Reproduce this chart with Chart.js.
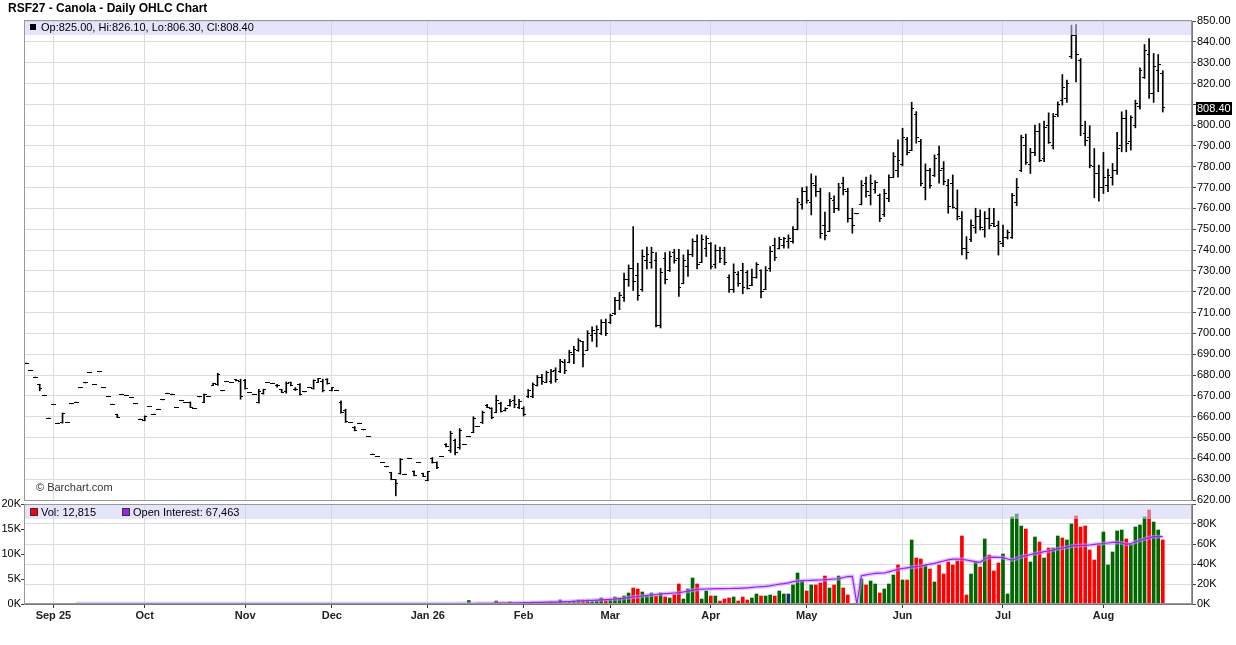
<!DOCTYPE html>
<html>
<head>
<meta charset="utf-8">
<script src="https://cdn.jsdelivr.net/npm/chart.js@4.4.1/dist/chart.umd.min.js"></script>
<style>
  html, body { margin: 0; padding: 0; background: #fff; }
  body { width: 1236px; height: 645px; position: relative; overflow: hidden; font-family: "Liberation Sans", Arial, sans-serif; }
  #title { position: absolute; left: 8px; top: 1px; font-size: 12px; font-weight: bold; color: #000; z-index: 5; }
  #priceWrap { position: absolute; left: 0; top: 0; width: 1236px; height: 520px; }
  #volWrap { position: absolute; left: 0; top: 495px; width: 1236px; height: 150px; }
</style>
</head>
<body>
<div id="title">RSF27 - Canola - Daily OHLC Chart</div>
<div id="priceWrap"><canvas id="price" width="1236" height="520"></canvas></div>
<div id="volWrap"><canvas id="volume" width="1236" height="150"></canvas></div>
<script>
// month gridlines / x tick labels (bar index of first bar in each month)
const monthIdx = [6, 26, 48, 67, 88, 109, 128, 150, 171, 192, 214, 236];
const monthLabels = ['Sep 25', 'Oct', 'Nov', 'Dec', 'Jan 26', 'Feb', 'Mar', 'Apr', 'May', 'Jun', 'Jul', 'Aug'];

// daily OHLC, one entry per bar
const opens = [
  685.7,682.3,679.0,675.5,670.3,659.3,666.0,656.9,657.0,657.2,
  666.2,667.0,673.9,676.2,681.3,675.5,681.6,673.9,669.6,666.0,
  661.2,670.6,670.3,669.2,666.2,658.8,658.0,664.9,661.2,663.6,
  668.1,671.3,670.8,664.4,667.9,666.8,667.0,663.9,669.5,666.8,
  669.7,675.2,675.3,672.4,677.0,676.4,678.0,677.0,677.5,671.6,
  670.8,667.0,671.0,676.4,676.1,674.8,673.0,672.0,676.5,673.2,
  675.5,671.9,674.0,673.3,676.5,677.0,678.0,672.5,672.7,667.0,
  663.0,657.2,655.0,656.9,653.7,650.5,642.0,640.9,638.0,635.9,
  633.0,629.7,632.5,632.4,640.1,633.5,638.0,632.8,629.5,640.0,
  638.0,640.9,646.8,644.0,648.5,645.0,646.6,650.4,652.5,655.2,
  657.0,665.5,664.0,662.0,666.5,663.0,665.3,668.0,664.5,664.0,
  669.5,669.5,675.0,679.0,676.5,677.0,682.0,681.5,686.0,686.0,
  690.0,692.0,696.0,692.0,699.0,700.0,700.0,705.0,705.0,709.5,
  716.0,717.0,726.0,731.0,728.0,721.0,735.0,734.0,735.0,704.0,
  736.0,730.0,739.0,736.0,724.0,732.0,738.0,744.0,734.0,741.0,
  743.0,733.0,740.0,740.0,727.0,721.0,728.5,730.0,729.0,723.0,
  727.0,730.0,721.0,731.0,742.0,741.0,742.0,744.0,744.0,750.0,
  762.0,768.0,763.0,771.0,768.0,752.0,749.0,764.0,760.0,772.0,
  768.0,755.0,757.4,762.0,772.0,766.0,769.0,766.0,757.0,765.0,
  775.0,778.0,781.0,793.0,788.0,805.0,792.0,770.0,778.0,776.0,
  786.0,779.0,771.0,772.0,760.0,755.0,741.0,745.0,751.0,756.0,
  750.0,755.0,753.0,752.0,743.0,746.0,746.0,763.0,778.0,790.0,
  781.0,787.0,797.0,784.0,800.0,790.0,805.0,812.0,813.0,833.0,
  843.0,831.0,796.0,794.0,780.0,777.0,770.0,771.0,775.0,778.0,
  790.0,803.0,792.0,800.0,809.0,823.0,834.0,815.0,826.0,825.0
];
const highs = [
  685.7,682.3,679.0,675.6,670.3,659.3,666.0,656.9,661.8,657.2,
  666.2,667.0,673.9,676.2,681.3,675.5,681.6,673.9,669.6,666.0,
  661.2,670.6,670.3,669.2,666.2,658.8,660.4,664.9,661.2,663.6,
  668.1,671.3,670.8,664.4,667.9,666.8,667.1,663.9,669.5,670.8,
  669.7,676.1,680.9,672.4,677.0,676.4,678.0,678.0,678.0,671.6,
  670.8,673.2,673.2,676.4,676.1,675.5,673.2,676.7,676.7,674.0,
  675.9,671.9,674.0,677.7,678.3,678.0,678.3,674.0,672.7,667.6,
  663.6,657.2,655.3,656.9,653.7,650.5,642.0,640.9,638.0,635.9,
  633.2,629.7,639.9,632.4,640.1,634.0,638.0,632.9,633.7,640.4,
  638.3,640.9,647.1,653.0,649.2,654.3,646.6,650.4,660.0,655.2,
  662.7,665.9,664.3,670.2,667.0,664.3,668.3,670.2,668.3,664.8,
  673.1,676.3,679.8,680.3,681.9,682.7,683.5,687.5,687.5,691.9,
  693.8,697.5,696.2,701.3,703.1,703.7,706.6,706.9,709.3,717.3,
  719.7,728.9,732.9,751.3,733.7,740.1,741.4,741.4,738.8,731.3,
  738.8,739.3,740.4,740.4,737.7,740.1,745.4,747.3,747.3,746.8,
  743.6,742.5,741.4,741.4,728.1,733.4,729.7,733.7,730.2,730.9,
  734.0,730.5,732.1,741.7,745.7,746.2,746.1,747.3,751.3,764.9,
  770.0,770.5,776.6,775.6,769.7,758.2,767.6,766.0,772.1,775.0,
  769.7,760.1,757.4,773.4,775.0,776.1,773.4,767.0,769.2,776.1,
  786.8,792.9,798.5,794.2,811.0,806.5,793.2,781.4,779.3,785.7,
  790.0,782.5,774.0,776.1,768.9,758.5,746.5,754.5,760.1,759.3,
  758.5,760.1,760.1,753.9,752.0,749.6,767.2,774.4,795.2,795.7,
  788.8,800.0,800.8,801.9,805.9,805.6,811.2,824.3,821.6,848.0,
  848.3,832.0,801.9,799.7,788.8,780.8,786.9,778.9,781.6,796.5,
  806.4,807.2,804.5,812.0,827.5,838.7,841.6,834.4,833.9,826.1
];
const lows = [
  685.7,682.3,679.0,672.4,670.3,659.3,666.0,656.9,656.9,657.2,
  666.2,667.0,673.9,676.2,681.3,675.5,681.6,673.9,669.6,666.0,
  659.6,670.6,670.3,669.2,666.2,658.8,658.0,664.9,661.2,663.6,
  668.1,671.3,670.8,664.4,667.9,666.8,664.4,663.9,669.5,666.8,
  669.7,675.1,675.1,672.4,677.0,676.4,677.2,668.4,673.2,671.6,
  670.8,666.5,670.8,676.4,676.1,674.2,671.6,671.3,674.8,672.6,
  670.3,671.9,674.0,673.2,676.4,671.9,675.6,672.4,672.7,661.7,
  657.2,657.2,653.2,656.9,653.7,650.5,642.0,640.9,638.0,635.9,
  629.7,622.0,632.4,632.4,640.1,631.6,638.0,631.3,629.2,637.7,
  635.1,640.9,645.5,642.8,641.7,644.4,646.6,650.4,652.3,655.2,
  656.7,664.3,659.0,661.9,662.2,662.7,665.1,664.3,663.8,660.3,
  669.1,669.1,674.7,675.5,676.3,676.0,676.6,681.1,680.7,685.9,
  685.5,691.4,683.9,691.9,696.2,693.5,699.4,698.9,704.7,709.0,
  711.4,715.4,722.6,720.6,715.9,720.2,730.9,731.3,703.1,702.6,
  723.8,729.7,733.7,717.8,723.8,727.3,736.9,730.9,734.0,736.9,
  730.9,731.3,734.0,732.9,719.7,719.7,722.6,719.0,721.3,722.9,
  726.5,717.0,721.0,729.7,735.0,740.5,740.9,740.9,743.3,749.7,
  759.6,762.5,756.9,765.7,745.7,744.9,748.9,758.0,759.0,766.5,
  753.4,748.1,757.4,761.7,765.4,761.7,767.3,753.7,756.1,763.3,
  775.0,775.0,780.4,785.7,787.8,791.3,770.8,764.1,769.7,775.3,
  772.1,771.3,757.7,760.1,754.5,737.7,735.7,744.1,748.1,749.7,
  746.2,750.1,751.3,737.6,741.6,745.3,745.6,761.3,777.6,781.1,
  776.8,785.3,782.4,782.4,791.2,788.5,804.0,809.6,810.9,832.0,
  820.8,794.9,790.1,779.5,765.1,763.5,767.2,768.0,771.2,776.3,
  787.2,787.2,788.0,798.7,807.7,822.4,812.8,810.9,816.0,806.3
];
const closes = [
  685.7,682.3,679.0,673.5,670.3,659.3,666.0,656.9,661.5,657.2,
  666.2,667.0,673.9,676.2,681.3,675.5,681.6,673.9,669.6,666.0,
  659.6,670.6,670.3,669.2,666.2,658.8,660.3,664.9,661.2,663.6,
  668.1,671.3,670.8,664.4,667.9,666.8,664.4,663.9,669.5,670.5,
  669.7,676.0,680.5,672.4,677.0,676.4,677.5,669.5,673.5,671.6,
  670.8,672.0,673.0,676.4,676.1,674.8,671.8,676.0,675.0,673.2,
  670.5,671.9,674.0,677.5,678.2,672.5,676.0,674.0,672.7,662.0,
  657.5,657.2,653.5,656.9,653.7,650.5,642.0,640.9,638.0,635.9,
  630.0,628.0,639.5,632.4,640.1,632.0,638.0,631.5,633.5,638.0,
  635.5,640.9,645.7,652.0,643.0,653.5,646.6,650.4,659.0,655.2,
  662.0,664.5,659.5,668.0,662.5,664.0,667.5,666.0,667.5,661.0,
  672.5,675.5,679.0,677.0,681.0,681.5,678.0,686.5,682.0,691.0,
  692.5,696.5,690.0,700.0,701.5,702.0,705.0,700.0,708.5,716.0,
  718.0,726.0,731.0,725.0,718.0,737.0,738.0,739.0,704.0,729.0,
  726.0,737.0,735.0,722.0,735.0,738.0,744.0,733.0,745.0,745.5,
  732.0,740.0,736.0,734.0,721.0,729.0,724.0,722.0,721.5,727.0,
  733.0,720.0,730.0,739.5,736.5,745.0,745.5,745.5,750.0,763.0,
  768.0,764.0,772.0,768.0,748.0,747.0,765.0,760.0,770.0,769.0,
  755.0,752.0,757.4,771.0,768.0,772.0,772.5,755.0,767.0,775.0,
  785.0,783.0,794.0,787.0,808.0,794.0,772.0,778.0,771.0,784.0,
  778.0,773.0,761.0,760.3,756.0,741.0,739.0,752.0,756.0,751.0,
  755.0,752.0,751.5,744.0,746.0,748.5,766.0,770.0,794.0,782.0,
  787.0,797.0,783.0,799.0,791.5,804.0,810.0,818.0,820.0,843.0,
  834.0,800.0,792.5,780.5,777.0,770.0,775.0,776.0,778.0,789.0,
  803.0,791.0,803.5,810.5,826.0,836.0,815.0,828.0,829.0,808.4
];

// daily volume in thousands, and direction (1 up, -1 down, 0 unchanged)
const volume = [
  0,0,0,0,0,0,0,0,0,0,
  0,0.15,0,0,0,0,0,0,0,0,
  0,0,0,0,0,0,0,0,0,0,
  0,0,0,0,0,0,0,0,0,0,
  0,0,0,0,0,0,0,0,0,0,
  0,0,0,0,0,0,0,0,0,0,
  0,0,0,0,0,0,0,0,0,0,
  0,0,0,0,0,0,0,0,0,0,
  0,0,0,0,0,0,0,0,0,0,
  0,0,0,0,0,0,0,0.7,0,0,
  0,0,0,0.6,0.2,0.2,0.4,0.13,0.2,0.1,
  0.2,0.4,0.27,0.27,0.27,0.4,0.4,0.8,0.27,0.4,
  0.6,0.8,0.8,0.8,0.47,0.67,1.2,0.67,0.87,1.4,
  1.2,1.6,2.2,3.2,3.0,2.4,1.6,2.2,1.6,2.2,
  1.4,1.2,1.9,4.0,1.0,3.0,5.2,4.0,1.0,2.6,
  1.6,1.6,0.6,1.0,1.2,1.4,0.6,1.4,0.8,1.2,
  2.0,1.6,1.6,1.8,1.6,2.6,2.0,2.0,3.8,6.2,
  4.7,2.6,3.8,3.8,4.2,5.6,3.2,3.8,5.6,3.2,
  1.8,0,0,5.0,3.8,4.6,4.0,2.2,3.0,4.0,
  5.8,7.8,4.8,4.8,12.8,9.2,9.0,7.8,7.0,4.4,
  7.8,6.0,8.4,7.8,8.6,13.6,1.8,6.0,8.4,7.4,
  13.0,9.8,6.6,8.2,10.0,2.0,17.4,18.0,15.6,15.0,
  8.4,13.4,12.4,9.2,11.2,11.2,13.6,13.2,12.8,16.0,
  17.6,15.4,15.6,10.8,8.8,11.8,14.4,7.8,10.4,14.6,
  14.8,13.0,12.0,15.4,15.8,17.4,18.8,16.4,14.8,12.815
];
const volumeDir = [
  1,1,1,1,1,1,1,1,1,1, 1,1,1,1,1,1,1,1,1,1,
  1,1,1,1,1,1,1,1,1,1, 1,1,1,1,1,1,1,1,1,1,
  1,1,1,1,1,1,1,1,1,1, 1,1,1,1,1,1,1,1,1,1,
  1,1,1,1,1,1,1,1,1,1, 1,1,1,1,1,1,1,1,1,1,
  1,1,1,1,1,1,1,1,1,1, 1,1,1,1,1,1,1,1,1,1,
  1,1,1,1,-1,1,1,-1,1,-1,
  1,1,1,-1,1,1,-1,1,-1,1,
  1,1,-1,1,1,1,1,-1,1,1,
  1,1,1,-1,-1,1,1,1,-1,1,
  -1,1,-1,-1,1,1,1,-1,1,1,
  -1,1,-1,-1,-1,1,-1,-1,-1,1,
  1,-1,1,1,-1,1,1,0,1,1,
  1,-1,1,-1,-1,-1,1,-1,1,-1,
  -1,1,1,1,-1,1,1,-1,1,1,
  1,-1,1,-1,1,-1,-1,1,-1,1,
  -1,-1,-1,-1,-1,-1,-1,1,1,-1,
  1,-1,-1,-1,1,1,1,1,1,-1,
  1,1,-1,1,-1,1,1,-1,1,1,
  -1,-1,-1,-1,-1,-1,1,1,1,1,
  1,-1,1,1,1,1,-1,1,1,-1
];
// open interest in thousands (null = not yet reported)
const openInterest = [
  null,null,null,null,null,null,null,null,null,null,
  null,0.3,0.3,0.3,0.3,0.3,0.3,0.3,0.3,0.3,
  0.3,0.3,0.3,0.3,0.3,0.3,0.3,0.3,0.3,0.3,
  0.3,0.3,0.3,0.3,0.3,0.3,0.3,0.3,0.3,0.3,
  0.3,0.3,0.3,0.3,0.3,0.3,0.3,0.3,0.3,0.3,
  0.3,0.3,0.3,0.3,0.3,0.3,0.3,0.3,0.3,0.3,
  0.3,0.3,0.3,0.3,0.3,0.3,0.3,0.3,0.3,0.3,
  0.3,0.3,0.3,0.3,0.3,0.3,0.3,0.3,0.3,0.3,
  0.3,0.3,0.3,0.3,0.3,0.3,0.3,0.3,0.3,0.3,
  0.3,0.3,0.3,0.3,0.3,0.4,0.4,0.5,0.5,0.6,
  0.6,0.6,0.6,0.8,0.9,1.0,1.0,1.1,1.2,1.3,
  1.4,1.5,1.6,1.7,1.8,1.9,2.0,2.2,2.3,2.5,
  2.7,3.0,3.2,3.5,3.7,3.9,4.2,4.4,4.7,5.0,
  5.3,5.7,6.3,7.0,7.5,8.0,8.6,9.0,9.5,10.0,
  10.3,10.6,11.0,11.3,12.0,12.8,13.8,14.5,14.8,15.0,
  15.2,15.3,15.3,15.4,15.5,15.6,15.7,15.9,16.2,16.6,
  17.0,17.3,17.6,18.2,19.0,19.8,20.4,21.2,22.3,23.0,
  23.4,23.5,23.7,23.8,24.0,24.3,24.6,25.0,25.2,26.5,
  27.4,27.7,0,28.3,29.2,30.0,30.7,30.8,31.0,32.2,
  33.5,34.7,35.5,36.2,36.8,37.3,38.0,39.0,39.8,40.7,
  41.8,43.0,44.2,44.8,45.0,44.7,44.0,43.2,42.3,41.7,
  45.0,46.7,46.8,46.7,46.5,45.0,44.0,45.5,47.3,48.2,
  49.5,50.3,51.2,52.3,53.0,54.0,55.2,56.0,56.8,57.8,
  58.3,58.5,58.7,59.0,59.6,60.2,60.5,61.0,61.6,61.8,
  61.0,59.7,60.5,62.0,63.7,65.0,66.2,67.3,67.3,67.463
];

const FONT = '"Liberation Sans", Arial, sans-serif';
Chart.defaults.font.family = FONT;
Chart.defaults.font.size = 11;
Chart.defaults.color = '#000';

const last = opens.length - 1;
const xMin = -0.44, xMax = 255.4;
const gridColor = '#dcdcdc';

function tickImage(side) {
  const c = document.createElement('canvas');
  c.width = 5; c.height = 1;
  const g = c.getContext('2d');
  g.fillStyle = '#000';
  g.fillRect(side === 'left' ? 0 : 2, 0, 3, 1);
  return c;
}

const monthTicks = (scale) => { scale.ticks = monthIdx.map(v => ({ value: v })); };

const priceDecor = {
  id: 'priceDecor',
  afterDatasetsDraw(chart) {
    const { ctx, chartArea: a } = chart;
    ctx.save();
    ctx.fillStyle = 'rgba(205,205,248,0.55)';
    ctx.fillRect(a.left, a.top - 1, a.right - a.left, 15);
    ctx.fillStyle = '#000';
    ctx.fillRect(30, a.top + 3, 6, 6);
    ctx.font = '11px ' + FONT;
    ctx.textBaseline = 'middle';
    ctx.fillText('Op:' + opens[last].toFixed(2) + ', Hi:' + highs[last].toFixed(2) +
      ', Lo:' + lows[last].toFixed(2) + ', Cl:' + closes[last].toFixed(2), 41, a.top + 6.5);
    ctx.fillStyle = '#333';
    ctx.fillText('\u00a9 Barchart.com', 36, 488);
    ctx.strokeStyle = '#999';
    ctx.lineWidth = 1;
    ctx.strokeRect(a.left + 0.5, a.top - 0.5, a.right - a.left - 1, a.bottom - a.top + 1);
    ctx.restore();
  },
  afterDraw(chart) {
    const { ctx, chartArea: a } = chart;
    const y = Math.round(chart.scales.y.getPixelForValue(closes[last]));
    ctx.save();
    ctx.fillStyle = '#000';
    ctx.fillRect(a.right + 4, y - 6, 36, 13);
    ctx.fillStyle = '#fff';
    ctx.font = '11px ' + FONT;
    ctx.textBaseline = 'middle';
    ctx.fillText(closes[last].toFixed(2), a.right + 5, y + 0.5);
    ctx.restore();
  }
};

new Chart(document.getElementById('price'), {
  type: 'bar',
  data: {
    datasets: [
      {
        type: 'bar',
        data: highs.map((h, i) => ({ x: i, y: [lows[i], h] })),
        backgroundColor: '#000',
        barThickness: 1,
        order: 2
      },
      {
        type: 'scatter',
        data: opens.map((v, i) => ({ x: i, y: v })),
        pointStyle: tickImage('left'),
        pointRadius: 2,
        order: 1
      },
      {
        type: 'scatter',
        data: closes.map((v, i) => ({ x: i, y: v })),
        pointStyle: tickImage('right'),
        pointRadius: 2,
        order: 1
      }
    ]
  },
  options: {
    responsive: false,
    animation: false,
    events: [],
    layout: { padding: { left: 24, top: 21, right: 0, bottom: 20 } },
    plugins: { legend: { display: false }, tooltip: { enabled: false } },
    scales: {
      x: {
        type: 'linear', min: xMin, max: xMax, offset: false,
        grid: { color: gridColor, tickLength: 0, offset: false },
        border: { display: false },
        ticks: { display: false },
        afterBuildTicks: monthTicks,
        afterFit: s => { s.height = 0; }
      },
      y: {
        position: 'right', min: 620, max: 850,
        ticks: {
          stepSize: 10, padding: 1,
          // the last-price box sits over the nearest label
          callback: v => Math.abs(v - closes[last]) < 5 ? '' : v.toFixed(2)
        },
        grid: { color: gridColor, tickLength: 4, tickColor: '#444' },
        border: { color: '#777' },
        afterFit: s => { s.width = 44; }
      }
    }
  },
  plugins: [priceDecor]
});

const volDecor = {
  id: 'volDecor',
  afterDatasetsDraw(chart) {
    const { ctx, chartArea: a } = chart;
    ctx.save();
    ctx.fillStyle = 'rgba(205,205,248,0.55)';
    ctx.fillRect(a.left, a.top, a.right - a.left, 15);
    ctx.font = '11px ' + FONT;
    ctx.textBaseline = 'middle';
    ctx.strokeStyle = '#333';
    ctx.fillStyle = '#ff0000';
    ctx.fillRect(30.5, a.top + 4.5, 7, 7);
    ctx.strokeRect(30.5, a.top + 4.5, 7, 7);
    ctx.fillStyle = '#a020f0';
    ctx.fillRect(122.5, a.top + 4.5, 7, 7);
    ctx.strokeRect(122.5, a.top + 4.5, 7, 7);
    ctx.fillStyle = '#000';
    const vol = Math.round(volume[last] * 1000).toLocaleString('en-US');
    const oi = Math.round(openInterest[last] * 1000).toLocaleString('en-US');
    ctx.fillText('Vol: ' + vol, 41, a.top + 8.5);
    ctx.fillText('Open Interest: ' + oi, 133, a.top + 8.5);
    ctx.strokeStyle = '#999';
    ctx.strokeRect(a.left + 0.5, a.top + 0.5, a.right - a.left - 1, a.bottom - a.top - 1);
    ctx.restore();
  }
};

const volColors = volumeDir.map(d => d > 0 ? '#006600' : (d < 0 ? '#ff0000' : '#1a2a6a'));
const oiPoints = [];
openInterest.forEach((v, i) => { if (v !== null) oiPoints.push({ x: i, y: v }); });

new Chart(document.getElementById('volume'), {
  type: 'bar',
  data: {
    datasets: [
      {
        type: 'line', data: oiPoints, yAxisID: 'y2',
        borderColor: '#a020f0', borderWidth: 1.2, pointRadius: 0, tension: 0, order: 0
      },
      {
        type: 'line', data: oiPoints, yAxisID: 'y2',
        borderColor: 'rgba(200,150,255,0.55)', borderWidth: 4, pointRadius: 0, tension: 0, order: 1
      },
      {
        type: 'bar', yAxisID: 'y',
        data: volume.map((v, i) => ({ x: i, y: v })),
        backgroundColor: volColors,
        barThickness: 3,
        order: 2
      }
    ]
  },
  options: {
    responsive: false,
    animation: false,
    events: [],
    layout: { padding: { left: 0, top: 9, right: 0, bottom: 0 } },
    plugins: { legend: { display: false }, tooltip: { enabled: false } },
    scales: {
      x: {
        type: 'linear', min: xMin, max: xMax, offset: false,
        grid: { color: gridColor, tickLength: 4, tickColor: '#333', offset: false },
        border: { color: '#777' },
        ticks: {
          autoSkip: false, maxRotation: 0, padding: 1, color: '#222',
          font: { weight: 'bold', size: 11 },
          callback: v => monthLabels[monthIdx.indexOf(v)]
        },
        afterBuildTicks: monthTicks,
        afterFit: s => { s.height = 41; }
      },
      y: {
        position: 'left', min: 0, max: 20,
        ticks: { stepSize: 5, padding: 0, callback: v => v + 'K' },
        grid: { drawOnChartArea: false, tickLength: 3, tickColor: '#444' },
        border: { color: '#999' },
        afterFit: s => { s.width = 24; }
      },
      y2: {
        position: 'right', min: 0, max: 100,
        ticks: { stepSize: 20, padding: 1, callback: v => v === 100 ? '' : v + 'K' },
        grid: { color: gridColor, tickLength: 4, tickColor: '#444' },
        border: { color: '#777' },
        afterFit: s => { s.width = 44; }
      }
    }
  },
  plugins: [volDecor]
});
</script>
</body>
</html>
